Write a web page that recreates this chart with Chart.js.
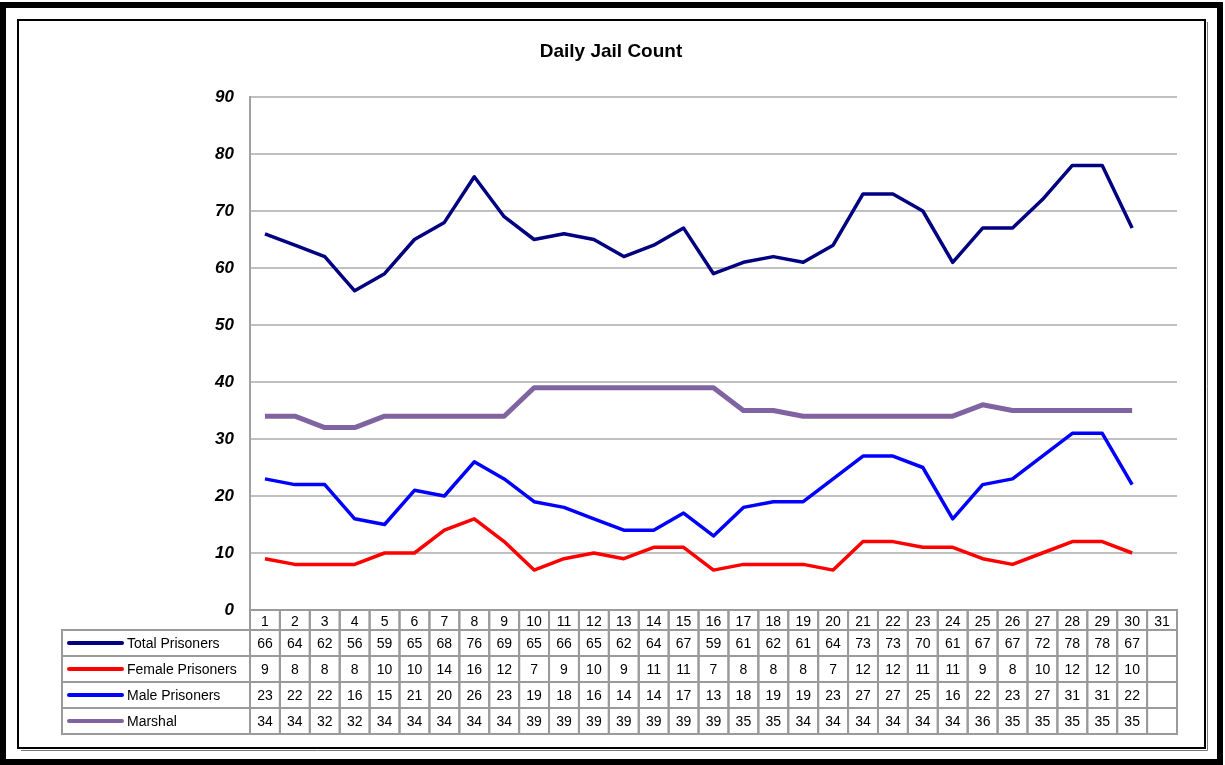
<!DOCTYPE html>
<html>
<head>
<meta charset="utf-8">
<script src="https://cdn.jsdelivr.net/npm/chart.js@4"></script>
<style>
  html, body { margin: 0; padding: 0; background: #fff; }
  #wrap { width: 1225px; height: 765px; position: relative; }
</style>
</head>
<body>
<div id="wrap"><canvas id="jailChart" width="1225" height="765"></canvas></div>
<script>
const days = ['1','2','3','4','5','6','7','8','9','10','11','12','13','14','15','16','17','18','19','20','21','22','23','24','25','26','27','28','29','30','31'];
const totalPrisoners = [66,64,62,56,59,65,68,76,69,65,66,65,62,64,67,59,61,62,61,64,73,73,70,61,67,67,72,78,78,67,null];
const femalePrisoners = [9,8,8,8,10,10,14,16,12,7,9,10,9,11,11,7,8,8,8,7,12,12,11,11,9,8,10,12,12,10,null];
const malePrisoners = [23,22,22,16,15,21,20,26,23,19,18,16,14,14,17,13,18,19,19,23,27,27,25,16,22,23,27,31,31,22,null];
const marshal = [34,34,32,32,34,34,34,34,34,39,39,39,39,39,39,39,35,35,34,34,34,34,34,34,36,35,35,35,35,35,null];
const yTicks = [0,10,20,30,40,50,60,70,80,90];

// frame + title, drawn behind the chart
const framePlugin = {
    id: 'frame',
    beforeDraw(chart) {
        const c = chart.ctx;
        c.save();
        c.fillStyle = '#fff';
        c.fillRect(0, 0, chart.width, chart.height);
        c.strokeStyle = '#000';
        c.lineWidth = 6;
        c.strokeRect(3, 5, 1217, 757);
        c.strokeStyle = '#777';
        c.lineWidth = 1;
        c.beginPath();
        c.moveTo(1207.5, 22); c.lineTo(1207.5, 750.5); c.lineTo(21, 750.5);
        c.stroke();
        c.strokeStyle = '#000';
        c.lineWidth = 2;
        c.strokeRect(18, 20, 1187, 728);
        c.fillStyle = '#000';
        c.font = 'bold 19px "Liberation Sans", Arial, sans-serif';
        c.textAlign = 'center';
        c.textBaseline = 'alphabetic';
        c.fillText('Daily Jail Count', 611, 57);
        c.restore();
    }
};

// data table under the plot, columns follow the x scale
const tablePlugin = {
    id: 'dataTable',
    afterDraw(chart) {
        const c = chart.ctx;
        const x = chart.scales.x;
        const area = chart.chartArea;
        const colW = (area.right - area.left) / days.length;
        const headTop = area.bottom, headBottom = area.bottom + 20;
        const rowH = 26;
        const legendLeft = 62;
        const ds = chart.data.datasets;
        c.save();
        c.strokeStyle = '#9a9a9a';
        c.lineWidth = 2;
        c.font = '14px "Liberation Sans", Arial, sans-serif';
        c.fillStyle = '#000';
        c.textAlign = 'center';
        c.textBaseline = 'middle';
        // header row
        days.forEach((d, i) => {
            const cx = x.getPixelForValue(i);
            c.strokeRect(cx - colW / 2, headTop, colW, headBottom - headTop);
            c.fillText(d, cx, (headTop + headBottom) / 2 + 2);
        });
        // series rows
        ds.forEach((set, r) => {
            const top = headBottom + r * rowH;
            c.strokeRect(legendLeft, top, area.left - legendLeft, rowH);
            c.save();
            c.strokeStyle = set.borderColor;
            c.lineWidth = 4;
            c.lineCap = 'round';
            c.beginPath();
            c.moveTo(69, top + rowH / 2);
            c.lineTo(122, top + rowH / 2);
            c.stroke();
            c.restore();
            c.textAlign = 'left';
            c.fillText(set.label, 127, top + rowH / 2 + 1);
            c.textAlign = 'center';
            set.data.forEach((v, i) => {
                const cx = x.getPixelForValue(i);
                c.strokeRect(cx - colW / 2, top, colW, rowH);
                if (v !== null) c.fillText(String(v), cx, top + rowH / 2 + 1);
            });
        });
        c.restore();
    }
};

const ctx = document.getElementById('jailChart').getContext('2d');
new Chart(ctx, {
    type: 'line',
    data: {
        labels: days,
        datasets: [
            { label: 'Total Prisoners', data: totalPrisoners, borderColor: '#000080', borderWidth: 3.5 },
            { label: 'Female Prisoners', data: femalePrisoners, borderColor: '#ff0000', borderWidth: 3.5 },
            { label: 'Male Prisoners', data: malePrisoners, borderColor: '#0000ff', borderWidth: 3.5 },
            { label: 'Marshal', data: marshal, borderColor: '#8064a2', borderWidth: 5 }
        ]
    },
    options: {
        responsive: false,
        animation: false,
        layout: { padding: { left: 190, right: 48, top: 97, bottom: 155 } },
        elements: { point: { radius: 0, hoverRadius: 0 }, line: { tension: 0, borderJoinStyle: 'round' } },
        plugins: { legend: { display: false }, title: { display: false }, tooltip: { enabled: false } },
        scales: {
            x: { type: 'category', offset: true, display: false },
            y: {
                min: 0, max: 90,
                afterFit(scale) { scale.width = 60; },
                afterBuildTicks(scale) { scale.ticks = yTicks.map(v => ({ value: v })); },
                ticks: {
                    color: '#000',
                    padding: 16,
                    font: { family: '"Liberation Sans", Arial, sans-serif', size: 17, weight: 'bold', style: 'italic' }
                },
                grid: { color: '#c0c0c0', lineWidth: 2, drawTicks: false },
                border: { color: '#a0a0a0', width: 2 }
            }
        }
    },
    plugins: [framePlugin, tablePlugin]
});
</script>
</body>
</html>
